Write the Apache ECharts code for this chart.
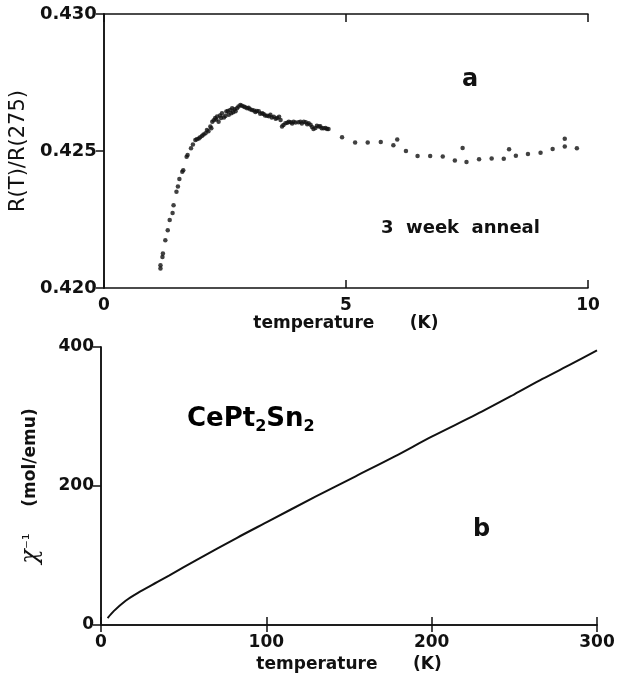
<!DOCTYPE html>
<html>
<head>
<meta charset="utf-8">
<script src="https://cdn.jsdelivr.net/npm/echarts@6/dist/echarts.min.js"></script>
<style>
  html, body { margin: 0; padding: 0; background: #fff; }
  #chart { width: 623px; height: 681px; }
</style>
</head>
<body>
<div id="chart"></div>
<script>
// panel a: R(T)/R(275) vs temperature, 3 week anneal
const tempA = [
  1.17, 1.17, 1.21, 1.22, 1.27, 1.32, 1.36, 1.42, 1.44, 1.50, 1.53, 1.56, 1.62, 1.64,
  1.71, 1.73, 1.80, 1.84, 1.89, 1.92, 1.96, 1.99, 2.03, 2.06, 2.10, 2.13, 2.16, 2.20,
  2.22, 2.24, 2.27, 2.30, 2.32, 2.34, 2.37, 2.40, 2.42, 2.44, 2.48, 2.51, 2.53, 2.56,
  2.58, 2.61, 2.63, 2.65, 2.67, 2.70, 2.72, 2.75, 2.78, 2.82, 2.85, 2.89, 2.92, 2.96,
  2.99, 3.02, 3.06, 3.10, 3.13, 3.16, 3.20, 3.23, 3.27, 3.30, 3.33, 3.37, 3.41, 3.44,
  3.47, 3.51, 3.55, 3.58, 3.62, 3.65, 3.68, 3.71, 3.75, 3.79, 3.82, 3.86, 3.89, 3.92,
  3.96, 4.02, 4.06, 4.09, 4.13, 4.17, 4.20, 4.23, 4.27, 4.30, 4.33, 4.37, 4.40, 4.44,
  4.47, 4.50, 4.54, 4.58, 4.61, 4.64,
  4.92, 5.19, 5.45, 5.72, 5.98, 6.06, 6.24, 6.48, 6.74, 7.00, 7.25, 7.41, 7.49, 7.75,
  8.01, 8.26, 8.37, 8.51, 8.76, 9.02, 9.27, 9.52, 9.52, 9.77
];
const ratioA = [
  0.42071, 0.42083, 0.42113, 0.42126, 0.42174, 0.42211, 0.42248, 0.42274, 0.42302, 0.42351, 0.42370, 0.42398, 0.42424, 0.42430,
  0.42479, 0.42485, 0.42510, 0.42524, 0.42540, 0.42543, 0.42546, 0.42550, 0.42556, 0.42560, 0.42565, 0.42577, 0.42572, 0.42589,
  0.42583, 0.42607, 0.42612, 0.42620, 0.42615, 0.42626, 0.42607, 0.42630, 0.42620, 0.42638, 0.42622, 0.42628, 0.42644, 0.42646,
  0.42632, 0.42650, 0.42638, 0.42656, 0.42641, 0.42652, 0.42645, 0.42656, 0.42662, 0.42668, 0.42665, 0.42662, 0.42660, 0.42656,
  0.42658, 0.42652, 0.42650, 0.42648, 0.42642, 0.42646, 0.42645, 0.42636, 0.42638, 0.42635, 0.42630, 0.42629, 0.42627, 0.42632,
  0.42622, 0.42625, 0.42618, 0.42620, 0.42625, 0.42613, 0.42589, 0.42595, 0.42601, 0.42603, 0.42607, 0.42605, 0.42600, 0.42607,
  0.42604, 0.42605, 0.42607, 0.42600, 0.42607, 0.42605, 0.42598, 0.42601, 0.42596, 0.42588, 0.42580, 0.42584, 0.42592, 0.42589,
  0.42590, 0.42583, 0.42583, 0.42584, 0.42580, 0.42580,
  0.42550, 0.42531, 0.42531, 0.42533, 0.42521, 0.42542, 0.42500, 0.42482, 0.42482, 0.42480, 0.42465, 0.42511, 0.42460, 0.42470,
  0.42473, 0.42472, 0.42506, 0.42483, 0.42489, 0.42494, 0.42507, 0.42545, 0.42516, 0.42510
];
const ticksA = { x: [0, 5, 10], y: [0.420, 0.425, 0.430] };

// panel b: inverse susceptibility of CePt2Sn2
const tempB = [4, 7.7, 14.9, 22.1, 34.2, 41.4, 58.2, 82.3, 100.3, 130, 154, 178, 200, 227, 250, 267, 284, 300];
const chiInv = [10, 20, 35, 46, 62, 71.5, 94, 125.5, 148, 185, 214, 243, 271, 303, 332, 354, 375, 395];
const ticksB = { x: [0, 100, 200, 300], y: [0, 200, 400] };

const pairs = (xs, ys) => xs.map((x, i) => [x, ys[i]]);

const FONT = 'DejaVu Sans';
const black = '#111';
const axisLine = { show: true, lineStyle: { color: black, width: 1.5 } };
const tickLabel = { color: black, fontFamily: FONT, fontWeight: 'bold', fontSize: 17 };
const nameStyle = { color: black, fontFamily: FONT, fontWeight: 'bold', fontSize: 17 };

const chart = echarts.init(document.getElementById('chart'));

chart.setOption({
  animation: false,
  backgroundColor: '#fff',
  grid: [
    { left: 102, top: 14, width: 486, height: 274 },
    { left: 101, top: 347, width: 496, height: 278 }
  ],
  xAxis: [
    {
      gridIndex: 0, type: 'value', min: ticksA.x[0], max: ticksA.x[2], interval: 5,
      axisLine, splitLine: { show: false },
      axisTick: { inside: true, length: 8, lineStyle: { color: black, width: 1.5 } },
      axisLabel: { ...tickLabel, margin: 9 },
      name: 'temperature      (K)', nameLocation: 'middle', nameGap: 25,
      nameTextStyle: nameStyle
    },
    {
      gridIndex: 0, type: 'value', position: 'top', min: 0, max: 10, interval: 5,
      axisLine, splitLine: { show: false }, axisLabel: { show: false },
      axisTick: { inside: true, length: 8, lineStyle: { color: black, width: 1.5 } }
    },
    {
      gridIndex: 1, type: 'value', min: ticksB.x[0], max: ticksB.x[3], interval: 100,
      axisLine, splitLine: { show: false },
      axisTick: { inside: true, length: 8, lineStyle: { color: black, width: 1.5 } },
      axisLabel: { ...tickLabel, margin: 9 },
      name: 'temperature      (K)', nameLocation: 'middle', nameGap: 31,
      nameTextStyle: nameStyle
    },
    {
      gridIndex: 1, type: 'value', position: 'top', min: 0, max: 300, interval: 100,
      axisLine, splitLine: { show: false }, axisLabel: { show: false },
      axisTick: { inside: true, length: 7, lineStyle: { color: black, width: 1.5 } }
    }
  ],
  yAxis: [
    {
      gridIndex: 0, type: 'value', min: ticksA.y[0], max: ticksA.y[2], interval: 0.005,
      axisLine, splitLine: { show: false },
      axisTick: { length: 5, customValues: [ticksA.y[1]], lineStyle: { color: black, width: 1.5 } },
      axisLabel: { ...tickLabel, fontSize: 18, margin: 7, formatter: v => v.toFixed(3) },
      name: 'R(T)/R(275)', nameLocation: 'middle', nameGap: 69,
      nameTextStyle: { color: black, fontFamily: FONT, fontSize: 21 }
    },
    {
      gridIndex: 0, type: 'value', position: 'right', min: 0.42, max: 0.43, interval: 0.005,
      axisLine, splitLine: { show: false }, axisLabel: { show: false },
      axisTick: { inside: true, length: 8, lineStyle: { color: black, width: 1.5 } }
    },
    {
      gridIndex: 1, type: 'value', min: ticksB.y[0], max: ticksB.y[2], interval: 200,
      axisLine, splitLine: { show: false },
      axisTick: { length: 6, customValues: [ticksB.y[1]], lineStyle: { color: black, width: 1.5 } },
      axisLabel: { ...tickLabel, margin: 7 },
      name: '{c|χ}{s|⁻¹}        {u|(mol/emu)}', nameLocation: 'middle', nameGap: 58,
      nameTextStyle: {
        color: black,
        rich: {
          c: { fontFamily: 'DejaVu Serif', fontStyle: 'italic', fontSize: 24, color: black },
          s: { fontFamily: FONT, fontSize: 17, color: black },
          u: { fontFamily: FONT, fontWeight: 'bold', fontSize: 17, color: black }
        }
      }
    },
    {
      gridIndex: 1, type: 'value', position: 'right', min: 0, max: 400, interval: 200,
      axisLine, splitLine: { show: false }, axisLabel: { show: false },
      axisTick: { inside: true, length: 8, lineStyle: { color: black, width: 1.5 } }
    }
  ],
  series: [
    {
      name: '3 week anneal', type: 'scatter', xAxisIndex: 0, yAxisIndex: 0,
      data: pairs(tempA, ratioA), symbol: 'circle', symbolSize: 4.5,
      itemStyle: { color: black }
    },
    {
      name: 'CePt2Sn2', type: 'line', xAxisIndex: 2, yAxisIndex: 2,
      data: pairs(tempB, chiInv), showSymbol: false, smooth: 0.3,
      lineStyle: { color: black, width: 2 }
    }
  ],
  graphic: [
    {
      type: 'text', left: 462, top: 68,
      style: { text: 'a', font: 'bold 24px "DejaVu Sans"', fill: black }
    },
    {
      type: 'text', left: 381, top: 219,
      style: { text: '3  week  anneal', font: 'bold 18px "DejaVu Sans"', fill: black }
    },
    {
      type: 'text', left: 187, top: 406,
      style: {
        text: '{m|CePt}{s|2}{m|Sn}{s|2}',
        rich: {
          m: { fontFamily: FONT, fontWeight: 'bold', fontSize: 26, lineHeight: 32, color: black },
          s: { fontFamily: FONT, fontWeight: 'bold', fontSize: 16, lineHeight: 16, verticalAlign: 'bottom', color: black }
        }
      }
    },
    {
      type: 'text', left: 473, top: 518,
      style: { text: 'b', font: 'bold 24px "DejaVu Sans"', fill: black }
    }
  ]
});
</script>
</body>
</html>
